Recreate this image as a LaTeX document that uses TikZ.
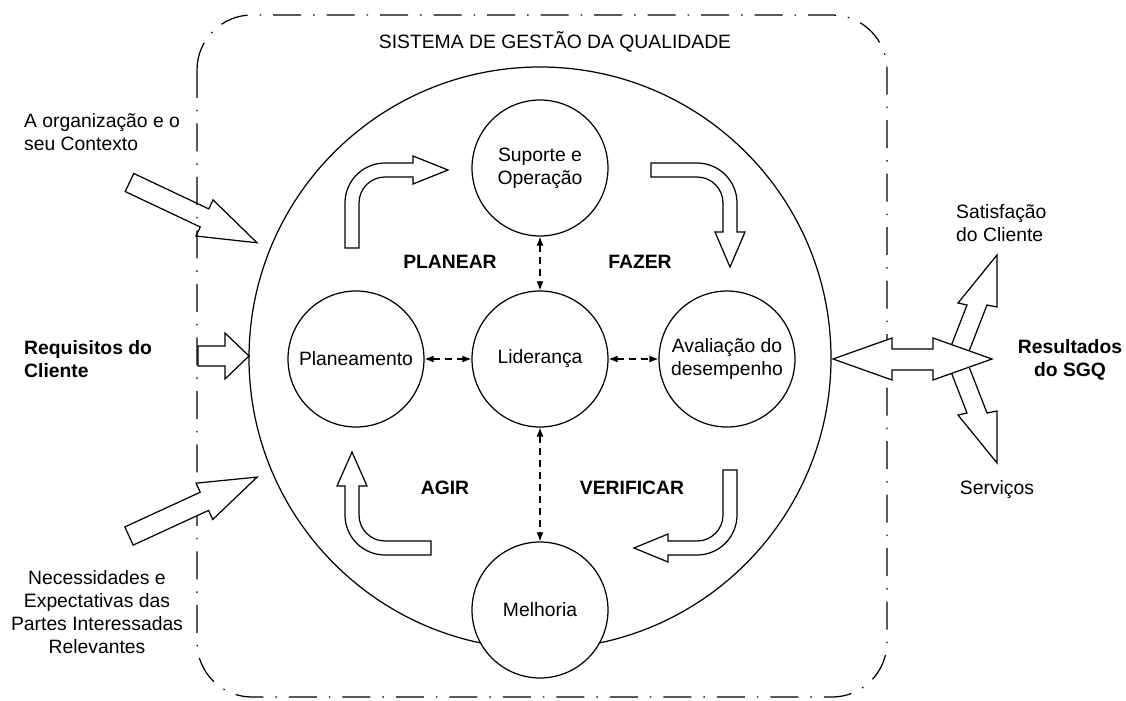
\documentclass[tikz,border=0pt]{standalone}
\usepackage{fontspec}
\setmainfont{Liberation Sans}
\usetikzlibrary{arrows.meta}
\begin{document}
\begin{tikzpicture}[x=0.02cm,y=-0.02cm,
  every node/.style={font=\fontsize{11}{13}\selectfont},
  circ/.style={circle,draw,fill=white,inner sep=0pt,minimum size=2.72cm,align=center,line width=0.7pt},
  blockarrow/.style={draw,fill=white,line width=0.7pt,line join=miter},
  link/.style={{Latex[length=1.8mm,width=1.4mm]}-{Latex[length=1.8mm,width=1.4mm]},dash pattern=on 0.14cm off 0.1cm,line width=0.7pt},
  phase/.style={font=\fontsize{11}{13}\selectfont\bfseries},
  border/.style={line width=0.7pt,dash pattern=on 0.56cm off 0.24cm on 0.03cm off 0.24cm,rounded corners=1.1cm}]
\useasboundingbox (0,0) rectangle (1126,700);

% top-left input arrow
\begin{scope}[shift={(129.5,182.5)},rotate=-25.3]
  \draw[blockarrow] (0,-10) -- (83,-10) -- (83,-20) -- (141,0) -- (83,20) -- (83,10) -- (0,10) -- cycle;
\end{scope}

% system border
\draw[border] (197,15) rectangle (887,697);

% bottom-left input arrow
\begin{scope}[shift={(129,536)},rotate=24.7]
  \draw[blockarrow] (0,-10) -- (83,-10) -- (83,-20) -- (141,0) -- (83,20) -- (83,10) -- (0,10) -- cycle;
\end{scope}

% requisitos arrow
\draw[blockarrow] (198,346) -- (225,346) -- (225,333) -- (249,356) -- (225,379) -- (225,366) -- (198,366) -- cycle;

% big circle
\draw[line width=0.7pt] (540,358) circle (291);

% circles
\node[circ] (sup) at (540,168) {Suporte e\\Operação};
\node[circ] (lid) at (540,359) {Liderança};
\node[circ] (plan) at (356,359) {Planeamento};
\node[circ] (aval) at (727,359) {Avaliação do\\desempenho};
\node[circ] (mel) at (540,610) {Melhoria};

% dashed links
\draw[link] (sup) -- (lid);
\draw[link] (plan) -- (lid);
\draw[link] (lid) -- (aval);
\draw[link] (lid) -- (mel);

% curved arrows
\draw[blockarrow] (345,248) -- (345,203) arc[start angle=180,end angle=270,radius=40] -- (413,163) -- (413,156) -- (448,170) -- (413,184) -- (413,177) -- (385,177) arc[start angle=270,end angle=180,radius=26] -- (359,248) -- cycle;
\draw[blockarrow] (651,163) -- (697,163) arc[start angle=270,end angle=360,radius=40] -- (737,232) -- (745,232) -- (730,267) -- (715,232) -- (723,232) -- (723,203) arc[start angle=0,end angle=-90,radius=26] -- (651,177) -- cycle;
\draw[blockarrow] (431,541) -- (385,541) arc[start angle=90,end angle=180,radius=26] -- (359,486) -- (367,486) -- (352,452) -- (337,486) -- (345,486) -- (345,515) arc[start angle=180,end angle=90,radius=40] -- (431,555) -- cycle;
\draw[blockarrow] (723,470) -- (737,470) -- (737,515) arc[start angle=0,end angle=90,radius=40] -- (668,555) -- (668,562) -- (634,548) -- (668,534) -- (668,541) -- (697,541) arc[start angle=90,end angle=0,radius=26] -- cycle;

% output arrows
\draw[blockarrow] (946,359) -- (967,305) -- (958,303) -- (997,255) -- (997,307) -- (987,305) -- (966,359) -- cycle;
\draw[blockarrow] (946,359) -- (967,413) -- (958,415) -- (997,463) -- (997,411) -- (987,413) -- (966,359) -- cycle;
\draw[blockarrow] (833,359) -- (892,338) -- (892,349) -- (933,349) -- (933,338) -- (992,359) -- (933,380) -- (933,370) -- (892,370) -- (892,380) -- cycle;

% phase labels
\node[phase] (planear) at (450,262) {PLANEAR};
\node[phase] (fazer) at (640,262) {FAZER};
\node[phase] (agir) at (445,488) {AGIR};
\node[phase] (verificar) at (632,488) {VERIFICAR};

% texts
\node (title) at (555,42) {SISTEMA DE GESTÃO DA QUALIDADE};
\node[anchor=west,align=left] (ctx) at (18,132) {A organização e o\\seu Contexto};
\node[anchor=west,align=left,phase] (req) at (18,359) {Requisitos do\\Cliente};
\node[align=center] (nec) at (97,612) {Necessidades e\\Expectativas das\\Partes Interessadas\\Relevantes};
\node[anchor=west,align=left] (sat) at (950,223) {Satisfação\\do Cliente};
\node[align=center,phase] (res) at (1070,360) {Resultados\\do SGQ};
\node (serv) at (997,490) {Serviços};
\end{tikzpicture}
\end{document}
